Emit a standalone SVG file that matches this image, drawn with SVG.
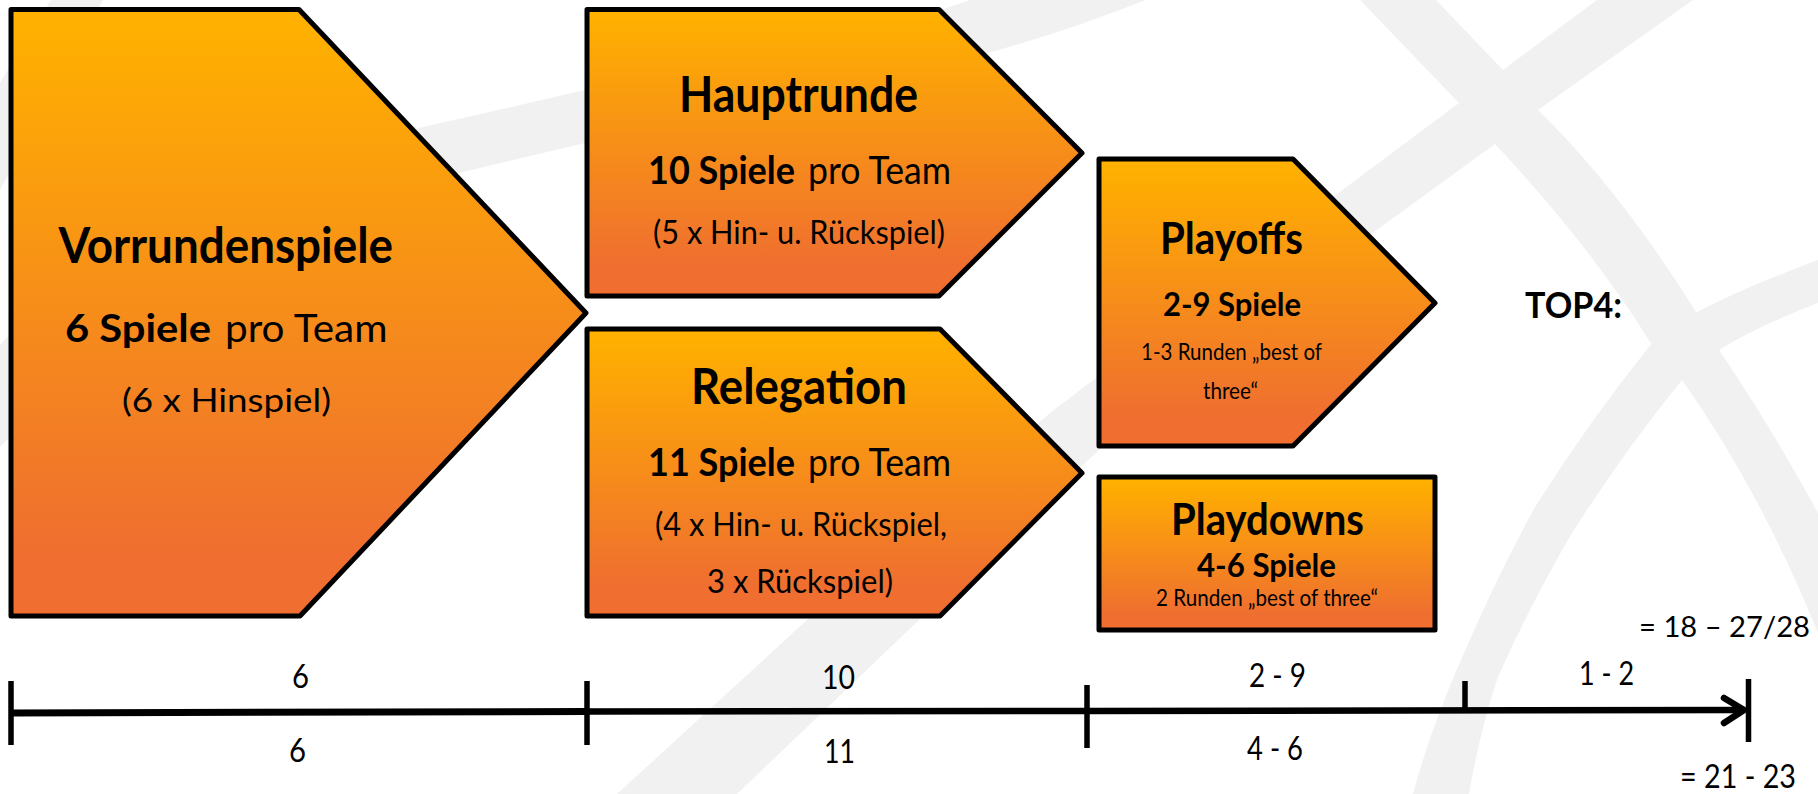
<svg xmlns="http://www.w3.org/2000/svg" width="1818" height="794" viewBox="0 0 1818 794">
<style>
text{font-family:"Lato","Noto Sans","Liberation Sans",sans-serif;fill:#000}
.b{font-weight:700}
.h1{font-size:50px;font-weight:700}
.h2{font-size:39px}
.h3{font-size:33.500px}
.ax{font-size:32px}
.box{fill:url(#g);stroke:#000;stroke-width:5;stroke-linejoin:round}
.bg{fill:#f1f1f1}
.axis{stroke:#000;fill:none}
</style>
<defs>
<linearGradient id="g" x1="0" y1="0" x2="0" y2="1">
<stop offset="0.03" stop-color="#ffb000"/><stop offset="0.9" stop-color="#ef6e30"/>
</linearGradient>
</defs>
<rect width="1818" height="794" fill="#fff"/>
<g id="background">
<path class="bg" d="M51 0H103L0 190V83Z"/>
<path class="bg" d="M0 345Q140 190 419 128L585 90Q830 50 970 0H1146Q1070 30 988 53Q800 110 585 143L459 173Q200 240 0 447Z"/>
<path class="bg" d="M617 794L807 620L1050 413L1333 197L1459 103L1503 70L1597 0H1693L1538 110L1495 144L1374 232L1099 450L919 620L737 794Z"/>
<path class="bg" d="M1360 0L1459 103L1495 144Q1590 245 1652 345L1682 380Q1760 490 1818 633V513Q1770 425 1719 350L1696 312Q1620 190 1538 110L1503 70L1436 0Z"/>
<path class="bg" d="M1413 794Q1430 730 1461 660Q1495 580 1535 507Q1590 420 1652 343L1697 312Q1750 285 1818 260V303Q1760 325 1719 350L1682 380Q1625 450 1572 533Q1530 605 1498 677Q1480 730 1469 794Z"/>
</g>
<g id="vorrundenspiele">
<path class="box" d="M11 9.500H299L586 313L300 616H11Z"/>
<text class="h1" x="58.500" y="263" textLength="334.500" lengthAdjust="spacingAndGlyphs">Vorrundenspiele</text>
<text class="h2" y="342"><tspan class="b" x="65" textLength="146" lengthAdjust="spacingAndGlyphs">6 Spiele</tspan><tspan x="225" textLength="162.500" lengthAdjust="spacingAndGlyphs">pro Team</tspan></text>
<text class="h3" x="122" y="412" textLength="209" lengthAdjust="spacingAndGlyphs">(6 x Hinspiel)</text>
</g>
<g id="hauptrunde">
<path class="box" d="M587 9.500H939L1082 153L939 296H587Z"/>
<text class="h1" x="679" y="112" textLength="239" lengthAdjust="spacingAndGlyphs">Hauptrunde</text>
<text class="h2" y="184"><tspan class="b" x="648" textLength="147" lengthAdjust="spacingAndGlyphs">10 Spiele</tspan><tspan x="808" textLength="143" lengthAdjust="spacingAndGlyphs">pro Team</tspan></text>
<text class="h3" x="653" y="244" textLength="292" lengthAdjust="spacingAndGlyphs">(5 x Hin- u. Rückspiel)</text>
</g>
<g id="relegation">
<path class="box" d="M587 329H940L1082 473L940 616H587Z"/>
<text class="h1" x="691" y="404" textLength="216" lengthAdjust="spacingAndGlyphs">Relegation</text>
<text class="h2" y="476"><tspan class="b" x="648" textLength="147" lengthAdjust="spacingAndGlyphs">11 Spiele</tspan><tspan x="808" textLength="143" lengthAdjust="spacingAndGlyphs">pro Team</tspan></text>
<text class="h3" x="655" y="536" textLength="292" lengthAdjust="spacingAndGlyphs">(4 x Hin- u. Rückspiel,</text>
<text class="h3" x="707" y="593" textLength="186" lengthAdjust="spacingAndGlyphs">3 x Rückspiel)</text>
</g>
<g id="playoffs">
<path class="box" d="M1099 159H1293L1435 303L1293 446H1099Z"/>
<text class="b" font-size="43" x="1160" y="254" textLength="143" lengthAdjust="spacingAndGlyphs">Playoffs</text>
<text class="b" font-size="33" x="1163" y="316" textLength="138" lengthAdjust="spacingAndGlyphs">2-9 Spiele</text>
<text font-size="22.500" x="1141" y="360" textLength="181" lengthAdjust="spacingAndGlyphs">1-3 Runden „best of</text>
<text font-size="22.500" x="1203" y="399" textLength="55" lengthAdjust="spacingAndGlyphs">three“</text>
</g>
<g id="playdowns">
<rect class="box" x="1099" y="477" width="336" height="153"/>
<text class="b" font-size="43" x="1171" y="535" textLength="193" lengthAdjust="spacingAndGlyphs">Playdowns</text>
<text class="b" font-size="33" x="1197" y="577" textLength="139" lengthAdjust="spacingAndGlyphs">4-6 Spiele</text>
<text font-size="22.500" x="1156" y="606" textLength="222" lengthAdjust="spacingAndGlyphs">2 Runden „best of three“</text>
</g>
<g id="top4">
<text class="b" font-size="36" x="1525" y="318" textLength="97" lengthAdjust="spacingAndGlyphs">TOP4:</text>
</g>
<g id="connectors">
<path class="axis" stroke-width="7" d="M11 713L587 711.500"/>
<path class="axis" stroke-width="6.500" d="M587 711.500L1087 711L1744 710"/>
<path class="axis" stroke-width="5.500" d="M11 681V745M587 681V745M1087 685V748M1465 681V712M1748.500 679V742"/>
<path class="axis" stroke-width="6.500" stroke-linecap="round" stroke-linejoin="round" d="M1724 698L1744 710L1724 723"/>
</g>
<g id="axis-labels">
<text class="ax" x="292" y="688" textLength="17" lengthAdjust="spacingAndGlyphs">6</text>
<text class="ax" x="289" y="762" textLength="17" lengthAdjust="spacingAndGlyphs">6</text>
<text class="ax" x="822" y="689" textLength="33" lengthAdjust="spacingAndGlyphs">10</text>
<text class="ax" x="824" y="763" textLength="31" lengthAdjust="spacingAndGlyphs">11</text>
<text class="ax" x="1249" y="687" textLength="57" lengthAdjust="spacingAndGlyphs">2 - 9</text>
<text class="ax" x="1247" y="760" textLength="56" lengthAdjust="spacingAndGlyphs">4 - 6</text>
<text class="ax" x="1579" y="685" textLength="55" lengthAdjust="spacingAndGlyphs">1 - 2</text>
<text font-size="29" x="1639" y="637" textLength="171" lengthAdjust="spacingAndGlyphs">= 18 – 27/28</text>
<text class="ax" x="1680" y="788" textLength="116" lengthAdjust="spacingAndGlyphs">= 21 - 23</text>
</g>
</svg>
